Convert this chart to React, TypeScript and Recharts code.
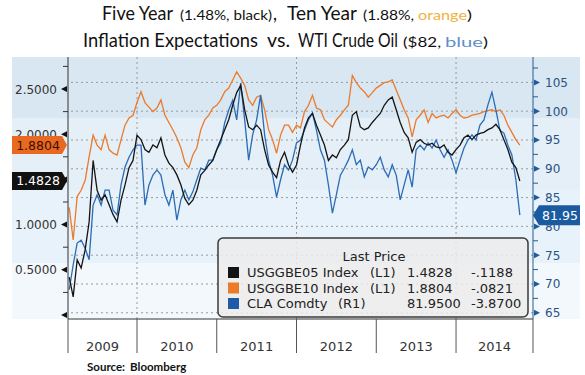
import React from "react";
import { LineChart, Line, XAxis, YAxis, ReferenceLine, ReferenceDot } from "recharts";

// decimal years, roughly every 2.5 weeks
const dates = [
  2009.15, 2009.2, 2009.25, 2009.3, 2009.35, 2009.4, 2009.45, 2009.5, 2009.55, 2009.6, 2009.65, 2009.7, 2009.75, 2009.8, 2009.85, 2009.9, 2009.95,
  2010.0, 2010.05, 2010.1, 2010.15, 2010.2, 2010.25, 2010.3, 2010.35, 2010.4, 2010.45, 2010.5, 2010.55, 2010.6, 2010.65, 2010.7, 2010.75, 2010.8, 2010.85, 2010.9, 2010.95,
  2011.0, 2011.05, 2011.1, 2011.15, 2011.2, 2011.25, 2011.3, 2011.35, 2011.4, 2011.45, 2011.5, 2011.55, 2011.6, 2011.65, 2011.7, 2011.75, 2011.8, 2011.85, 2011.9, 2011.95,
  2012.0, 2012.05, 2012.1, 2012.15, 2012.2, 2012.25, 2012.3, 2012.35, 2012.4, 2012.45, 2012.5, 2012.55, 2012.6, 2012.65, 2012.7, 2012.75, 2012.8, 2012.85, 2012.9, 2012.95,
  2013.0, 2013.05, 2013.1, 2013.15, 2013.2, 2013.25, 2013.3, 2013.35, 2013.4, 2013.45, 2013.5, 2013.55, 2013.6, 2013.65, 2013.7, 2013.75, 2013.8, 2013.85, 2013.9, 2013.95,
  2014.0, 2014.05, 2014.1, 2014.15, 2014.2, 2014.25, 2014.3, 2014.35, 2014.4, 2014.45, 2014.5, 2014.55, 2014.6, 2014.65, 2014.7, 2014.75, 2014.8,
];

// USGGBE05 Index (black, left axis)
const fiveYear = [
  0.42, 0.2, 0.61, 0.52, 0.72, 1.03, 1.71, 1.38, 1.27, 1.33, 1.22, 1.11, 1.03, 1.27, 1.44, 1.63, 1.71,
  1.99, 1.94, 1.83, 1.8, 1.88, 1.85, 1.96, 1.77, 1.68, 1.63, 1.55, 1.44, 1.29, 1.22, 1.27, 1.38, 1.55, 1.6, 1.66, 1.71,
  1.83, 1.94, 2.05, 2.16, 2.32, 2.46, 2.54, 2.27, 2.08, 2.05, 2.1, 2.05, 1.83, 1.66, 1.58, 1.52, 1.71, 1.8, 1.66, 1.58,
  1.66, 1.88, 2.07, 2.18, 2.23, 2.1, 1.99, 1.88, 1.71, 1.77, 1.74, 1.83, 1.88, 1.94, 2.21, 2.25, 2.08, 2.05, 2.07, 2.13,
  2.18, 2.23, 2.32, 2.38, 2.41, 2.27, 2.13, 2.02, 1.96, 1.8, 1.91, 1.94, 1.9, 1.88, 1.9, 1.86, 1.85, 1.88, 1.8, 1.77,
  1.83, 1.88, 1.96, 1.99, 1.94, 1.99, 2.01, 2.02, 2.05, 2.07, 2.11, 2.05, 1.94, 1.83, 1.69, 1.63, 1.4828,
];

// USGGBE10 Index (orange, left axis)
const tenYear = [
  1.19, 0.83, 1.31, 1.38, 1.49, 1.75, 1.99, 1.88, 1.83, 1.99, 1.83, 1.79, 1.77, 1.94, 2.1, 2.18, 2.21,
  2.35, 2.47, 2.35, 2.3, 2.25, 2.29, 2.38, 2.21, 2.13, 2.05, 1.96, 1.85, 1.69, 1.63, 1.77, 1.85, 2.05, 2.16, 2.21, 2.29,
  2.32, 2.38, 2.47, 2.51, 2.6, 2.69, 2.62, 2.54, 2.38, 2.32, 2.41, 2.43, 2.27, 2.05, 1.94, 1.79, 1.99, 2.1, 2.1, 2.02,
  2.1, 2.07, 2.25, 2.32, 2.43, 2.29, 2.27, 2.16, 2.12, 2.08, 2.16, 2.21, 2.27, 2.32, 2.65, 2.57, 2.51, 2.47, 2.41, 2.46,
  2.51, 2.54, 2.57, 2.58, 2.6, 2.49, 2.38, 2.27, 2.18, 1.97, 2.16, 2.21, 2.27, 2.13, 2.23, 2.18, 2.2, 2.21, 2.18, 2.23,
  2.27, 2.21, 2.18, 2.19, 2.21, 2.22, 2.23, 2.25, 2.26, 2.27, 2.25, 2.27, 2.21, 2.1, 2.02, 1.94, 1.8804,
];

// CLA Comdty (blue, right axis)
const wti = [
  69.0, 73.3, 77.1, 77.6, 76.2, 74.2, 83.7, 85.5, 83.7, 86.3, 86.3, 82.8, 82.0, 87.2, 90.3, 92.0, 93.3,
  94.1, 94.1, 83.7, 87.2, 88.9, 89.8, 88.9, 85.5, 83.7, 86.3, 81.1, 84.6, 86.3, 84.6, 86.0, 88.1, 90.1, 89.8, 91.5, 91.5,
  93.3, 94.5, 98.0, 100.2, 101.9, 98.5, 104.9, 98.5, 91.5, 95.9, 98.5, 102.8, 95.9, 91.5, 88.9, 85.1, 88.1, 90.7, 89.8, 91.5,
  94.5, 95.0, 96.7, 98.5, 99.7, 96.7, 93.3, 91.5, 87.2, 82.3, 85.5, 88.9, 90.1, 91.5, 93.3, 90.7, 91.5, 88.6, 90.3, 89.8,
  90.7, 92.0, 89.8, 88.6, 90.7, 88.9, 84.6, 87.2, 89.8, 86.8, 93.3, 94.1, 93.3, 94.5, 93.6, 95.0, 93.3, 92.0, 93.3, 91.5,
  89.3, 91.5, 93.6, 95.0, 95.9, 95.0, 97.6, 98.5, 101.1, 103.3, 100.2, 96.7, 96.2, 94.1, 92.4, 88.1, 81.95,
];

const yearLabels = ["2009", "2010", "2011", "2012", "2013", "2014"];
const xBounds = [2009.135, 2010, 2011, 2012, 2013, 2014, 2014.965];
const gridYears = [2010, 2012, 2014];

const leftTicks = [0, 0.25, 0.5, 0.75, 1, 1.25, 1.5, 1.75, 2, 2.25, 2.5, 2.75];
const leftMajor = [0, 0.5, 1, 1.5, 2, 2.5];
const rightTicks = [65, 67.5, 70, 72.5, 75, 77.5, 80, 82.5, 85, 87.5, 90, 92.5, 95, 97.5, 100, 102.5, 105, 107.5];
const rightMajor = [65, 70, 75, 80, 85, 90, 95, 100, 105];

const legendNames = ["USGGBE05 Index", "USGGBE10 Index", "CLA Comdty"];
const legendSides = ["(L1)", "(L1)", "(R1)"];
const legendChanges = ["-.1188", "-.0821", "-3.8700"];

const ORANGE = "#ec7a2b";
const BLACK = "#141414";
const BLUE = "#2a6cb6";
const FONT = "'DejaVu Sans', Verdana, sans-serif";
const TITLE_FONT = "Lato, 'Open Sans', sans-serif";

const rows = dates.map((t, i) => ({ t, five: fiveYear[i], ten: tenYear[i], wti: wti[i] }));
const labelTicks = yearLabels.map((_, i) => (xBounds[i] + xBounds[i + 1]) / 2);
const last = (a: number[]) => a[a.length - 1];

const LeftTick = ({ x, y, payload }: any) => {
  const v = payload.value;
  if (!leftMajor.includes(v)) return <line x1={x - 5} x2={x} y1={y} y2={y} stroke="#333" />;
  return (
    <g>
      <path d={`M${x - 7},${y} L${x - 1},${y - 3} L${x - 1},${y + 3} Z`} fill="#111" />
      {v > 0 && (
        <text x={x - 11} y={y + 4.5} textAnchor="end" fontSize={12} fill="#333" fontFamily={FONT}>
          {v.toFixed(4)}
        </text>
      )}
    </g>
  );
};

const RightTick = ({ x, y, payload }: any) => {
  const v = payload.value;
  if (!rightMajor.includes(v)) return <line x1={x} x2={x + 5} y1={y} y2={y} stroke="#2a5a90" />;
  return (
    <g>
      <path d={`M${x + 7},${y} L${x + 1},${y - 3} L${x + 1},${y + 3} Z`} fill="#1f5b9b" />
      <text x={x + 12} y={y + 4.5} fontSize={12} fill="#2c5282" fontFamily={FONT}>
        {v}
      </text>
    </g>
  );
};

const XTick = ({ x, y, payload }: any) => {
  const idx = labelTicks.indexOf(payload.value);
  if (idx >= 0)
    return (
      <text x={x} y={y + 32} textAnchor="middle" fontSize={13} fill="#333" fontFamily={FONT}>
        {yearLabels[idx]}
      </text>
    );
  return <line x1={x} x2={x} y1={y} y2={y + 34} stroke="#555" />;
};

// value tags at the axes
const LeftBadge = ({ cy, text, fill, color }: any) => (
  <g>
    <path d={`M12,${cy - 9} L62,${cy - 9} L67,${cy} L62,${cy + 9} L12,${cy + 9} Z`} fill={fill} />
    <text x={38} y={cy + 4.5} textAnchor="middle" fontSize={12.5} fill={color} fontFamily={FONT}>
      {text}
    </text>
  </g>
);

const RightBadge = ({ cx, cy, text }: any) => (
  <g>
    <path d={`M${cx},${cy} L${cx + 6},${cy - 10} L580,${cy - 10} L580,${cy + 10} L${cx + 6},${cy + 10} Z`} fill="#1a5aa0" />
    <text x={cx + 27} y={cy + 4.5} textAnchor="middle" fontSize={12.5} fill="#fff" fontFamily={FONT}>
      {text}
    </text>
  </g>
);

// title pieces: text, left x, width, size, colour
const titleParts: [string, number, number, number, string, number][] = [
  ["Five Year", 102, 71, 19, "#111", 20],
  ["(1.48%, black)", 180, 92, 14, "#111", 20],
  [",", 273, 4, 19, "#111", 20],
  ["Ten Year", 287, 70, 19, "#111", 20],
  ["(1.88%,", 363, 51, 14, "#111", 20],
  ["orange", 418, 49, 14, "#f0b143", 20],
  [")", 467, 5, 14, "#111", 20],
  ["Inflation Expectations", 83, 175, 19, "#111", 47],
  ["vs.", 267, 23, 19, "#111", 47],
  ["WTI Crude Oil", 298, 100, 19, "#111", 47],
  ["($82,", 403, 38, 14, "#111", 47],
  ["blue", 445, 38, 14, "#5f8fcb", 47],
  [")", 483, 5, 14, "#111", 47],
];

const App = () => {
  const legendColors = [BLACK, ORANGE, "#1f5aa6"];
  const legendLast = [last(fiveYear).toFixed(4), last(tenYear).toFixed(4), last(wti).toFixed(4)];

  return (
    <div style={{ position: "absolute", left: 0, top: 0, width: 585, height: 375, background: "#fff" }}>
      <div
        style={{
          position: "absolute",
          left: 12,
          top: 57,
          width: 568,
          height: 262,
          background:
            "linear-gradient(to bottom, #d8e7f2 0px, #d8e7f2 61px, #e4eff8 61px, #e4eff8 133px, #e8f2fa 133px, #e8f2fa 206px, #f3f8fc 206px, #f3f8fc 262px)",
        }}
      />
      <div style={{ position: "absolute", left: 0, top: 0 }}>
        <LineChart width={585} height={375} data={rows} margin={{ top: 57, right: 5, bottom: 0, left: 12 }}>
          <XAxis
            dataKey="t"
            type="number"
            domain={[xBounds[0], xBounds[xBounds.length - 1]]}
            allowDataOverflow
            ticks={[...xBounds, ...labelTicks]}
            interval={0}
            tick={<XTick />}
            tickLine={false}
            tickSize={0}
            tickMargin={0}
            height={56}
            axisLine={{ stroke: "#333" }}
          />
          <YAxis
            yAxisId="left"
            orientation="left"
            domain={[-0.044, 2.854]}
            allowDataOverflow
            ticks={leftTicks}
            interval={0}
            tick={<LeftTick />}
            tickLine={false}
            tickSize={0}
            tickMargin={0}
            width={56}
            axisLine={{ stroke: "#333" }}
          />
          <YAxis
            yAxisId="right"
            orientation="right"
            domain={[63.92, 109.41]}
            allowDataOverflow
            ticks={rightTicks}
            interval={0}
            tick={<RightTick />}
            tickLine={false}
            tickSize={0}
            tickMargin={0}
            width={47}
            axisLine={{ stroke: "#2a5a90" }}
          />
          {rightMajor.map((v) => (
            <ReferenceLine key={v} yAxisId="right" y={v} stroke="#9a9a9a" strokeDasharray="2 3" />
          ))}
          {gridYears.map((v) => (
            <ReferenceLine key={v} yAxisId="left" x={v} stroke="#9a9a9a" strokeDasharray="2 3" />
          ))}
          <Line yAxisId="left" dataKey="ten" stroke={ORANGE} strokeWidth={1.3} dot={false} type="linear" isAnimationActive={false} />
          <Line yAxisId="right" dataKey="wti" stroke={BLUE} strokeWidth={1.3} dot={false} type="linear" isAnimationActive={false} />
          <Line yAxisId="left" dataKey="five" stroke={BLACK} strokeWidth={1.3} dot={false} type="linear" isAnimationActive={false} />
          <ReferenceDot
            yAxisId="left"
            x={xBounds[0]}
            y={last(tenYear)}
            ifOverflow="visible"
            zIndex={2000}
            shape={(p: any) => <LeftBadge {...p} text={last(tenYear).toFixed(4)} fill="#e8691f" color="#3b1000" />}
          />
          <ReferenceDot
            yAxisId="left"
            x={xBounds[0]}
            y={last(fiveYear)}
            ifOverflow="visible"
            zIndex={2000}
            shape={(p: any) => <LeftBadge {...p} text={last(fiveYear).toFixed(4)} fill="#111" color="#fff" />}
          />
          <ReferenceDot
            yAxisId="right"
            x={xBounds[xBounds.length - 1]}
            y={last(wti)}
            ifOverflow="visible"
            zIndex={2000}
            shape={(p: any) => <RightBadge {...p} text={last(wti).toFixed(2)} />}
          />
        </LineChart>
      </div>

      <svg width={585} height={375} style={{ position: "absolute", left: 0, top: 0, pointerEvents: "none" }}>
        {titleParts.map(([txt, x, w, size, color, y], i) => (
          <text key={i} x={x} y={y} textLength={w} lengthAdjust="spacingAndGlyphs" fontFamily={TITLE_FONT} fontSize={size} fill={color}>
            {txt}
          </text>
        ))}

        {/* legend box */}
        <rect x={218} y={238} width={310} height={79} rx={5} fill="#ececec" fillOpacity={0.85} stroke="#3a3a3a" strokeWidth={1.5} />
        <text x={374} y={261} textAnchor="middle" fontSize={13} fill="#222" fontFamily={FONT}>
          Last Price
        </text>
        {legendNames.map((name, i) => {
          const by = 277 + i * 15.5;
          return (
            <g key={name} fontFamily={FONT} fontSize={13} fill="#222">
              <rect x={228} y={by - 10} width={11} height={11} fill={legendColors[i]} />
              <text x={247} y={by}>{name}</text>
              <text x={i === 2 ? 338 : 370} y={by}>{legendSides[i]}</text>
              <text x={407} y={by}>{legendLast[i]}</text>
              <text x={471} y={by}>{legendChanges[i]}</text>
            </g>
          );
        })}

        <text x={87} y={371} fontFamily="Lato, sans-serif" fontWeight="bold" fontSize={11.5} fill="#111">
          Source:<tspan dx={5}>Bloomberg</tspan>
        </text>
      </svg>
    </div>
  );
};

export default App;
